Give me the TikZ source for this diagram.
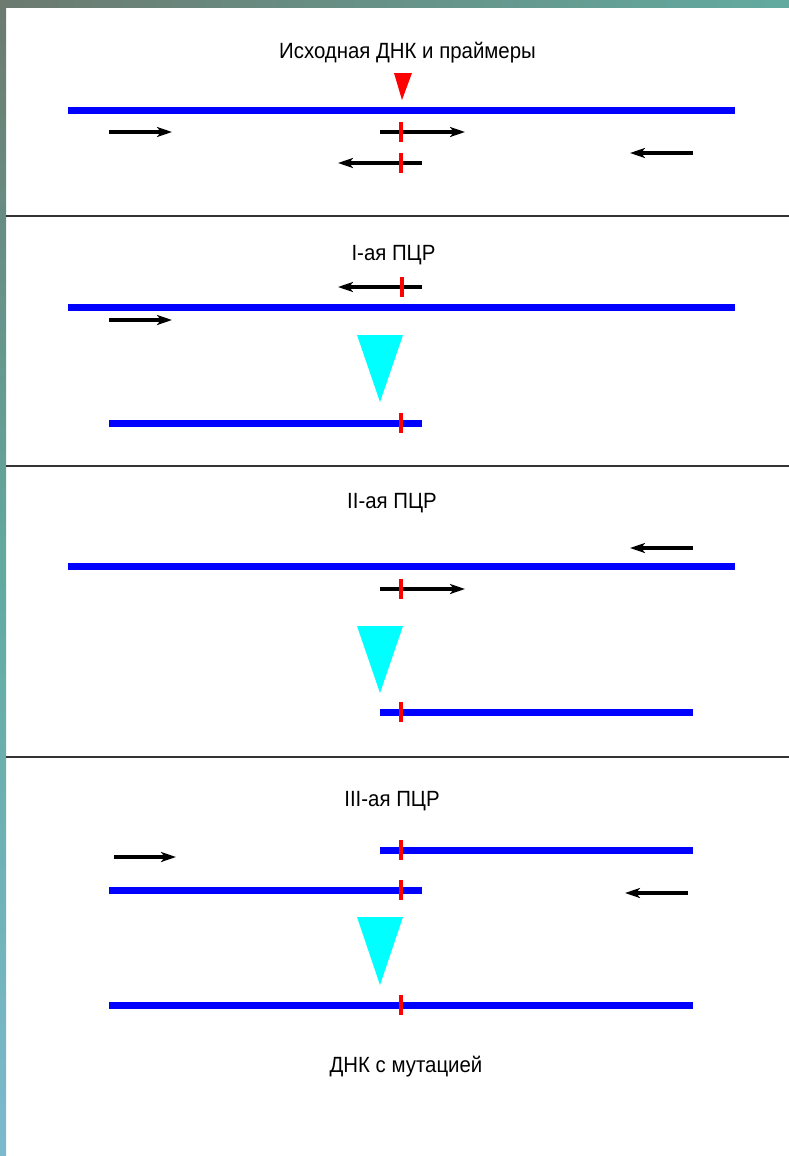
\documentclass[tikz,border=0pt]{standalone}
\usepackage{fontspec}
\setmainfont{Liberation Sans}
\usetikzlibrary{arrows.meta}
\definecolor{framegrey}{RGB}{108,122,112}
\definecolor{frameteal}{RGB}{98,170,160}
\definecolor{frameblue}{RGB}{125,185,205}
\definecolor{dnablue}{RGB}{0,0,255}
\definecolor{stepcyan}{RGB}{0,255,255}
\definecolor{mutred}{RGB}{255,0,0}
\tikzset{
  dna/.style={draw=dnablue, line width=7pt},
  primer/.style={draw=black, line width=4pt, -{Stealth[length=15pt,width=10pt,inset=4pt]}},
  mutmark/.style={draw=mutred, line width=4pt},
  divider/.style={draw=black!80, line width=1.2pt},
  caption/.style={font=\fontsize{20.4}{24}\selectfont, inner sep=0pt},
  funnel/.style={fill=stepcyan},
}
\newcommand{\mut}[2]{\draw[mutmark] (#1,#2-10) -- (#1,#2+10);}
\newcommand{\tall}[1]{\scalebox{1}[1.08]{#1}}
\begin{document}
\begin{tikzpicture}[x=1pt,y=-1pt]
\useasboundingbox (0,0) rectangle (789,1156);
% frame strips
\shade[top color=framegrey, bottom color=frameblue, middle color=frameteal] (0,0) rectangle (6,1156);
\shade[left color=framegrey, right color=frameteal] (0,0) rectangle (789,8);
% dividers
\coordinate (d1l) at (6,216); \coordinate (d1r) at (789,216);
\coordinate (d2l) at (6,466); \coordinate (d2r) at (789,466);
\coordinate (d3l) at (6,757); \coordinate (d3r) at (789,757);
\draw[divider] (d1l) -- (d1r);
\draw[divider] (d2l) -- (d2r);
\draw[divider] (d3l) -- (d3r);

% ---- section 1: template and primers
\node[caption] (t1) at (407.5,53) {\tall{Исходная ДНК и праймеры}};
\fill[mutred] (394,73) -- (412,73) -- (402,100) -- cycle;
\coordinate (a1) at (68,110); \coordinate (b1) at (735,110);
\draw[dna] (a1) -- (b1);
\coordinate (p1s) at (109,132); \coordinate (p1e) at (172,132);
\draw[primer] (p1s) -- (p1e);
\coordinate (p2s) at (380,132); \coordinate (p2e) at (465,132);
\draw[primer] (p2s) -- (p2e);
\mut{401}{132}
\coordinate (p3s) at (422,163); \coordinate (p3e) at (338,163);
\draw[primer] (p3s) -- (p3e);
\mut{401}{163}
\coordinate (p4s) at (693,153); \coordinate (p4e) at (630,153);
\draw[primer] (p4s) -- (p4e);

% ---- section 2: first PCR
\node[caption] (t2) at (393.5,255) {\tall{I-ая ПЦР}};
\coordinate (q1s) at (422,287); \coordinate (q1e) at (338,287);
\draw[primer] (q1s) -- (q1e);
\mut{402}{287}
\coordinate (a2) at (68,307); \coordinate (b2) at (735,307);
\draw[dna] (a2) -- (b2);
\coordinate (q2s) at (109,320); \coordinate (q2e) at (172,320);
\draw[primer] (q2s) -- (q2e);
\fill[funnel] (357,335) -- (403,335) -- (380,402) -- cycle;
\coordinate (c2) at (109,423); \coordinate (e2) at (422,423);
\draw[dna] (c2) -- (e2);
\mut{401}{423}

% ---- section 3: second PCR
\node[caption] (t3) at (392,503) {\tall{II-ая ПЦР}};
\coordinate (r1s) at (693,548); \coordinate (r1e) at (630,548);
\draw[primer] (r1s) -- (r1e);
\coordinate (a3) at (68,566); \coordinate (b3) at (735,566);
\draw[dna] (a3) -- (b3);
\coordinate (r2s) at (380,589); \coordinate (r2e) at (465,589);
\draw[primer] (r2s) -- (r2e);
\mut{401}{589}
\fill[funnel] (357,626) -- (403,626) -- (380,693) -- cycle;
\coordinate (c3) at (380,712); \coordinate (e3) at (693,712);
\draw[dna] (c3) -- (e3);
\mut{401}{712}

% ---- section 4: third PCR
\node[caption] (t4) at (392,801) {\tall{III-ая ПЦР}};
\coordinate (s1s) at (114,857); \coordinate (s1e) at (176,857);
\draw[primer] (s1s) -- (s1e);
\coordinate (f1) at (380,850); \coordinate (g1) at (693,850);
\draw[dna] (f1) -- (g1);
\mut{401}{850}
\coordinate (f2) at (109,890); \coordinate (g2) at (422,890);
\draw[dna] (f2) -- (g2);
\mut{401}{890}
\coordinate (s2s) at (688,893); \coordinate (s2e) at (625,893);
\draw[primer] (s2s) -- (s2e);
\fill[funnel] (357,917) -- (403,917) -- (380,985) -- cycle;
\coordinate (f3) at (109,1005); \coordinate (g3) at (693,1005);
\draw[dna] (f3) -- (g3);
\mut{401}{1005}
\node[caption] (t5) at (406,1067) {\tall{ДНК с мутацией}};
\end{tikzpicture}
\end{document}
